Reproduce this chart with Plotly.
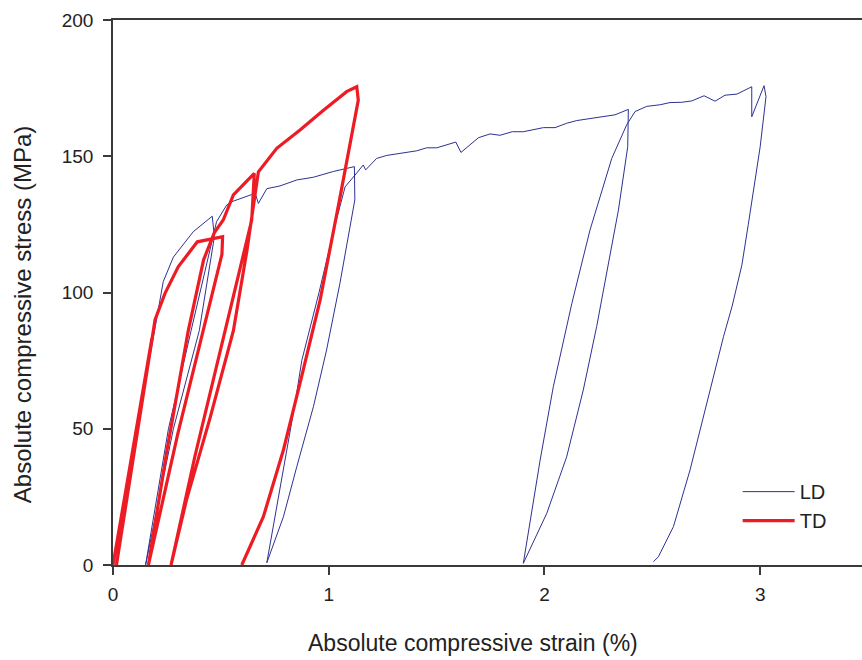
import plotly.graph_objects as go

# LD series (strain %, stress MPa)
ld_strain = [0, 0.1, 0.2, 0.21, 0.233, 0.28, 0.372, 0.46, 0.47, 0.40, 0.28, 0.151,
             0.257, 0.362, 0.44, 0.473, 0.48, 0.527, 0.55, 0.659, 0.674, 0.713, 0.774,
             0.852, 0.929, 1.021, 1.083, 1.119, 1.121, 1.052, 0.99, 0.929, 0.852, 0.79,
             0.713, 0.774, 0.844, 0.875, 0.955, 1.03, 1.076, 1.122, 1.16, 1.171, 1.222,
             1.269, 1.331, 1.408, 1.454, 1.501, 1.589, 1.613, 1.694, 1.748, 1.794, 1.851,
             1.902, 1.995, 2.049, 2.103, 2.15, 2.227, 2.327, 2.389, 2.386, 2.343, 2.289,
             2.242, 2.18, 2.103, 2.011, 1.902, 1.98, 2.041, 2.127, 2.211, 2.312, 2.381,
             2.42, 2.474, 2.536, 2.582, 2.636, 2.683, 2.74, 2.791, 2.837, 2.892, 2.961,
             2.961, 3.018, 3.027, 3.0, 2.975, 2.945, 2.915, 2.87, 2.83, 2.752, 2.675,
             2.598, 2.528, 2.505]
ld_stress = [0, 45, 90, 93.6, 104, 113, 122.3, 128, 120.5, 86, 50, 0,
             50, 86, 112, 123, 126, 132.1, 133.3, 136.4, 132.7, 138.1, 139.1,
             141.3, 142.3, 144.4, 145.5, 146.2, 134, 103.4, 78.9, 58.1, 36.1, 17.7,
             0.8, 27.5, 59.3, 75, 100, 125, 138.8, 143.1, 146.8, 145, 149.2,
             150.3, 151.1, 152, 153.1, 153.1, 155.2, 151.4, 156.8, 158.2, 157.7, 159,
             159, 160.5, 160.5, 162.1, 163.1, 163.9, 165.2, 167.2, 153.5, 130.3, 107,
             87.5, 64.2, 39.7, 19, 0.6, 38.5, 65.4, 96, 122.9, 149.2, 161.5,
             166.4, 168.3, 168.9, 169.7, 169.8, 170.3, 172.2, 170.2, 172.4, 172.8, 175.5,
             164.5, 175.9, 171.9, 153.5, 140, 125, 110, 95, 83.8, 59.3, 34.9,
             14.1, 3, 1.2]

# TD series (strain %, stress MPa)
td_strain = [0, 0.18, 0.016, 0.176, 0.195, 0.241, 0.303, 0.391, 0.508, 0.505, 0.419,
             0.3, 0.164, 0.25, 0.349, 0.42, 0.47, 0.511, 0.558, 0.655, 0.643, 0.52,
             0.38, 0.269, 0.341, 0.45, 0.558, 0.62, 0.674, 0.759, 0.867, 0.97, 1.083,
             1.13, 1.137, 1.05, 0.96, 0.867, 0.79, 0.697, 0.597]
td_stress = [0, 83, 0, 80, 90, 99.7, 109.5, 118.6, 120.5, 114, 86,
             48, 0, 42, 86, 112, 122, 126.6, 135.8, 143.7, 126.6, 86,
             40, 0, 24, 54, 86, 115, 144.3, 152.9, 159.6, 166.5, 173.7,
             175.5, 170.6, 134, 97.2, 66.7, 42.2, 17.7, 0]

x_ticks = [0, 1, 2, 3]
y_ticks = [0, 50, 100, 150, 200]
x_title = "Absolute compressive strain (%)"
y_title = "Absolute compressive stress (MPa)"

FONT = "Liberation Sans, Arial, Helvetica, sans-serif"
AXIS = "#3a3a3a"

fig = go.Figure()
fig.add_trace(go.Scatter(x=ld_strain, y=ld_stress, mode="lines", name="LD",
                         line=dict(color="#2e3192", width=1)))
fig.add_trace(go.Scatter(x=td_strain, y=td_stress, mode="lines", name="TD",
                         line=dict(color="#ed1c24", width=3.2)))

fig.update_layout(
    width=862, height=660,
    margin=dict(l=113, r=0, t=20, b=95),
    paper_bgcolor="white", plot_bgcolor="white",
    font=dict(family=FONT, size=19, color="#222"),
    showlegend=True,
    legend=dict(x=0.834, y=0.108, xanchor="left", yanchor="middle",
                bgcolor="rgba(0,0,0,0)", font=dict(size=20, color="#222"),
                itemwidth=52),
    xaxis=dict(range=[0, 3.472], tickvals=x_ticks, ticks="outside", ticklen=8,
               tickcolor=AXIS, tickwidth=1.5, showline=True, linecolor=AXIS,
               linewidth=1.5, mirror=True, showgrid=False, zeroline=False,
               ticklabelstandoff=3),
    yaxis=dict(range=[0, 200], tickvals=y_ticks, ticks="outside", ticklen=8,
               tickcolor=AXIS, tickwidth=1.5, showline=True, linecolor=AXIS,
               linewidth=1.5, showgrid=False, zeroline=False,
               ticklabelstandoff=6),
    annotations=[
        dict(text=x_title, xref="paper", yref="paper", x=0.480, y=-0.143,
             xanchor="center", yanchor="middle", showarrow=False,
             font=dict(size=23, color="#222")),
        dict(text=y_title, xref="paper", yref="paper", x=-0.121, y=0.459,
             xanchor="center", yanchor="middle", showarrow=False, textangle=-90,
             font=dict(size=24, color="#222")),
    ],
)

fig.write_html("out.html")
